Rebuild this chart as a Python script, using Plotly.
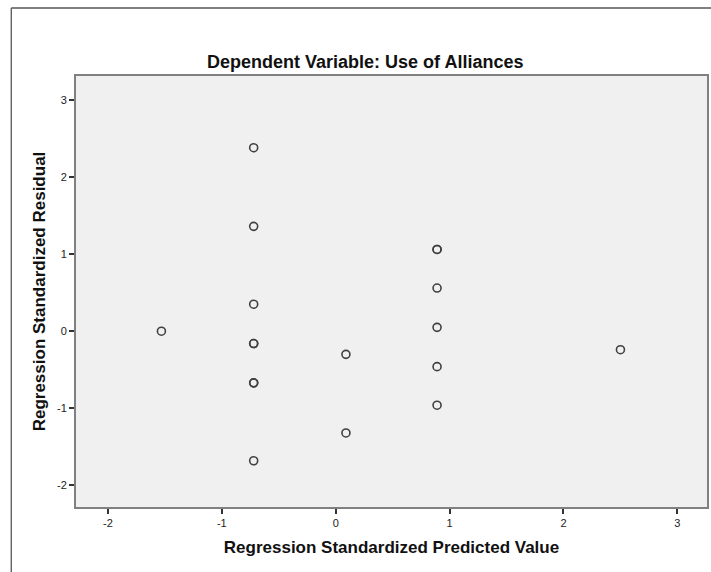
import plotly.graph_objects as go

# Data
pred = [-1.53, -0.72, -0.72, -0.72, -0.72, -0.72, -0.72, -0.72, -0.72,
        0.09, 0.09, 0.89, 0.89, 0.89, 0.89, 0.89, 0.89, 2.50]
resid = [0.00, 2.38, 1.36, 0.35, -0.16, -0.16, -0.67, -0.67, -1.68,
         -0.30, -1.32, 1.06, 1.06, 0.56, 0.05, -0.46, -0.96, -0.24]
xticks = [-2, -1, 0, 1, 2, 3]
yticks = [-2, -1, 0, 1, 2, 3]
xticklabels = ["-2", "-1", "0", "1", "2", "3"]
yticklabels = ["-2", "-1", "0", "1", "2", "3"]

W, H = 711, 572
L, R, T, B = 76, 2, 76, 65
pw, ph = W - L - R, H - T - B

def px(x):
    return (x - L) / pw

def py(y):
    return (H - B - y) / ph

FONT = "Liberation Sans, Arial"

fig = go.Figure(go.Scatter(
    x=pred, y=resid, mode="markers",
    marker=dict(symbol="circle-open", size=8, color="#404040",
                line=dict(width=1.6, color="#404040")),
    hoverinfo="x+y"))

axis_common = dict(showgrid=False, zeroline=False, ticks="outside", ticklen=5,
                   tickwidth=1.5, tickcolor="#333333", showline=True,
                   linecolor="#808080", linewidth=2, mirror=True,
                   tickfont=dict(family=FONT, size=11, color="#222222"))

fig.update_layout(
    width=W, height=H,
    margin=dict(l=L, r=R, t=T, b=B),
    paper_bgcolor="white", plot_bgcolor="#F0F0F0",
    showlegend=False,
    xaxis=dict(range=[-2.28, 3.26], tickvals=xticks, ticktext=xticklabels, **axis_common,
               title=dict(text="<b>Regression Standardized Predicted Value</b>",
                          font=dict(family=FONT, size=17, color="#111111"),
                          standoff=13)),
    yaxis=dict(range=[-2.28, 3.31], tickvals=yticks, ticktext=yticklabels, **axis_common,
               title=dict(text="<b>Regression Standardized Residual</b>",
                          font=dict(family=FONT, size=17, color="#111111"),
                          standoff=7)),
    annotations=[dict(text="<b>Dependent Variable: Use of Alliances</b>",
                      xref="paper", yref="paper", x=px(366), y=py(62),
                      xanchor="center", yanchor="middle", showarrow=False,
                      font=dict(family=FONT, size=18, color="#111111"))],
    shapes=[
        dict(type="line", xref="paper", yref="paper", x0=px(11), x1=px(11),
             y0=py(H + 5), y1=py(8), line=dict(color="#222222", width=1)),
        dict(type="line", xref="paper", yref="paper", x0=px(11), x1=px(W + 5),
             y0=py(8), y1=py(8), line=dict(color="#555555", width=1.5)),
    ],
)

fig.write_html("out.html")
